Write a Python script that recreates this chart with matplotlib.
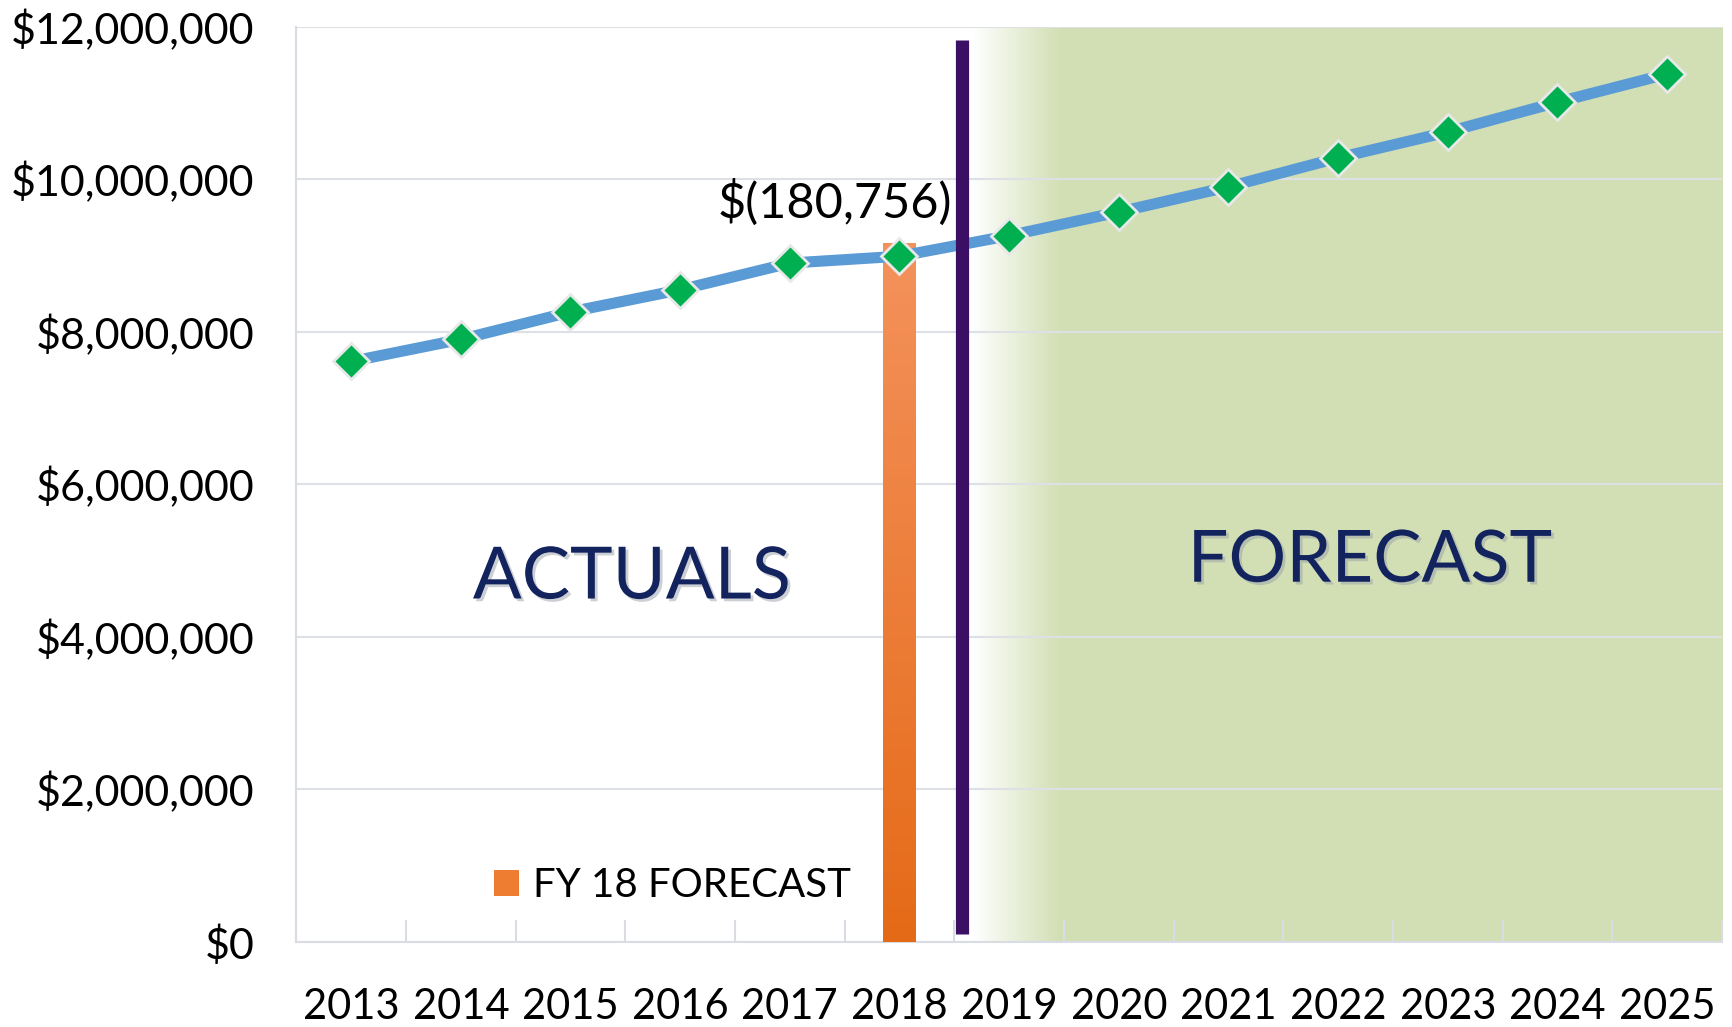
import numpy as np
import matplotlib
matplotlib.use('Agg')
import matplotlib.pyplot as plt
import matplotlib.patheffects as pe
from matplotlib.patches import Patch
from matplotlib.ticker import FuncFormatter
from matplotlib.colors import LinearSegmentedColormap

# data
years = ['2013', '2014', '2015', '2016', '2017', '2018', '2019',
         '2020', '2021', '2022', '2023', '2024', '2025']
revenue = [7610000, 7900000, 8260000, 8550000, 8900000, 8990000, 9260000,
           9570000, 9900000, 10280000, 10620000, 11010000, 11380000]
fy18_year = '2018'
fy18_forecast = 9160000
gap_label = '$(180,756)'
y_ticks = [0, 2000000, 4000000, 6000000, 8000000, 10000000, 12000000]

plt.rcParams['font.family'] = ['Lato', 'DejaVu Sans']

fig = plt.figure(figsize=(17.33, 10.27), dpi=100)
ax = fig.add_axes([0.171, 0.083, 0.8226, 0.891])

x = np.arange(len(years))
split = 5.57          # actuals / forecast divider
ymax = y_ticks[-1]

ax.set_xlim(-0.5, len(years) - 0.5)
ax.set_ylim(0, ymax)

# forecast shading, fading in from the divider
green = np.array([0.824, 0.875, 0.706])
x0, x1 = split + 0.09, len(years) - 0.5
xs = np.linspace(x0, x1, 800)
alpha = np.clip((xs - x0) / 0.8, 0, 1)
img = np.zeros((2, len(xs), 4))
img[..., :3] = green
img[..., 3] = alpha
ax.imshow(img, extent=[x0, x1, 0, ymax], aspect='auto', zorder=0,
          interpolation='bilinear')

# grid / axes styling
ax.set_axisbelow(True)
ax.yaxis.grid(True, color='#dde1e6', lw=1.5)
for s in ['top', 'right']:
    ax.spines[s].set_visible(False)
for s in ['left', 'bottom']:
    ax.spines[s].set_color('#d9dde3')
    ax.spines[s].set_linewidth(1.5)

ax.set_yticks(y_ticks)
ax.yaxis.set_major_formatter(FuncFormatter(lambda v, p: '${:,.0f}'.format(v)))
ax.tick_params(axis='y', length=0, pad=30, labelsize=31)

ax.set_xticks(np.arange(-0.5, len(years), 1))
ax.set_xticklabels([])
ax.tick_params(axis='x', which='major', direction='in', length=16,
               width=1.5, color='#d9dde3')
ax.set_xticks(x, minor=True)
ax.set_xticklabels(years, minor=True)
ax.tick_params(axis='x', which='minor', length=0, pad=33, labelsize=30)

# FY18 forecast bar with a vertical gradient
bi = years.index(fy18_year)
bars = ax.bar(x[bi], fy18_forecast, width=0.3, color='#ee7d31', zorder=3)
bar = bars[0]
grad = np.linspace(0, 1, 256).reshape(-1, 1)
ocmap = LinearSegmentedColormap.from_list('o', ['#e56a17', '#f4925c'])
bx = bar.get_x()
gim = ax.imshow(grad, cmap=ocmap, origin='lower', aspect='auto',
                extent=[bx, bx + bar.get_width(), 0, fy18_forecast], zorder=3)
gim.set_clip_path(bar)
bar.set_alpha(0)

# revenue line
ax.plot(x, revenue, color='#5b9bd5', lw=8, marker='D', ms=18,
        mfc='#00b050', mec='#e8e8e8', mew=2, zorder=4, solid_capstyle='butt')

# divider
ax.vlines(split, 100000, 11830000, color='#3b1064', lw=9.5, zorder=5)

# labels
shadow = [pe.withSimplePatchShadow(offset=(2, -2), shadow_rgbFace='#9aa0aa', alpha=0.5)]
ax.text(2.56, 4.77e6, 'ACTUALS', ha='center', va='center', fontsize=52,
        color='#12235e', zorder=6, path_effects=shadow)
ax.text(9.29, 4.99e6, 'FORECAST', ha='center', va='center', fontsize=52,
        color='#12235e', zorder=6, path_effects=shadow)
ax.text(4.41, 9.70e6, gap_label, ha='center', va='center', fontsize=35,
        color='black', zorder=6)

leg = ax.legend(handles=[Patch(facecolor='#ee7d31', label='FY 18 FORECAST')],
                loc='center', bbox_to_anchor=(0.264, 0.0616), frameon=False,
                fontsize=29, handlelength=0.63, handleheight=0.63,
                handletextpad=0.35)

fig.savefig('out.png', dpi=100)
